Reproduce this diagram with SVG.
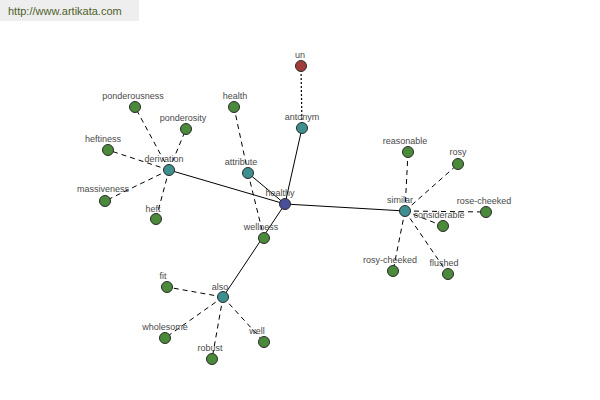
<svg xmlns="http://www.w3.org/2000/svg" width="600" height="400" viewBox="0 0 600 400">
<style>
.n{stroke:#2a2a2a;stroke-width:1}
.g{fill:#4a8a3a}.t{fill:#3e9090}.b{fill:#4a4f9c}.r{fill:#a03c3c}
text{font-family:"Liberation Sans",Arial,sans-serif;font-size:9px;fill:#4a4a4a;text-anchor:middle}
.s{stroke:#000;stroke-width:1;fill:none}
.d{stroke:#000;stroke-width:1;fill:none;stroke-dasharray:5,4}
.o{stroke:#000;stroke-width:1.2;fill:none;stroke-dasharray:2,2}
</style>
<rect x="0" y="0" width="139" height="21" fill="#eeeeee"/>
<text x="8" y="15" style="font-size:11px;fill:#4e5e2a;text-anchor:start">http://www.artikata.com</text>
<g id="connectors">
<line class="s" x1="285" y1="204" x2="302" y2="128"/>
<line class="o" x1="302" y1="128" x2="301" y2="66"/>
<line class="s" x1="285" y1="204" x2="169" y2="170"/>
<line class="s" x1="285" y1="204" x2="248" y2="173"/>
<line class="s" x1="285" y1="204" x2="405" y2="211"/>
<line class="s" x1="285" y1="204" x2="223" y2="297"/>
<line class="d" x1="169" y1="170" x2="135" y2="107"/>
<line class="d" x1="169" y1="170" x2="186" y2="129"/>
<line class="d" x1="169" y1="170" x2="108" y2="150"/>
<line class="d" x1="169" y1="170" x2="105" y2="201"/>
<line class="d" x1="169" y1="170" x2="156" y2="219"/>
<line class="d" x1="248" y1="173" x2="234" y2="107"/>
<line class="d" x1="248" y1="173" x2="264" y2="238"/>
<line class="d" x1="223" y1="297" x2="167" y2="287"/>
<line class="d" x1="223" y1="297" x2="165" y2="338"/>
<line class="d" x1="223" y1="297" x2="212" y2="359"/>
<line class="d" x1="223" y1="297" x2="264" y2="342"/>
<line class="d" x1="405" y1="211" x2="408" y2="152"/>
<line class="d" x1="405" y1="211" x2="458" y2="164"/>
<line class="d" x1="405" y1="211" x2="486" y2="212"/>
<line class="d" x1="405" y1="211" x2="443" y2="226"/>
<line class="d" x1="405" y1="211" x2="393" y2="271"/>
<line class="d" x1="405" y1="211" x2="448" y2="274"/>
</g>
<g id="un"><circle class="n r" cx="301" cy="66" r="5.5"/><text x="300" y="58">un</text></g>
<g id="antonym"><circle class="n t" cx="302" cy="128" r="5.5"/><text x="302" y="120">antonym</text></g>
<g id="derivation"><circle class="n t" cx="169" cy="170" r="5.5"/><text x="164" y="162">derivation</text></g>
<g id="ponderousness"><circle class="n g" cx="135" cy="107" r="5.5"/><text x="133" y="99">ponderousness</text></g>
<g id="ponderosity"><circle class="n g" cx="186" cy="129" r="5.5"/><text x="183" y="121">ponderosity</text></g>
<g id="heftiness"><circle class="n g" cx="108" cy="150" r="5.5"/><text x="103" y="142">heftiness</text></g>
<g id="massiveness"><circle class="n g" cx="105" cy="201" r="5.5"/><text x="103" y="192">massiveness</text></g>
<g id="heft"><circle class="n g" cx="156" cy="219" r="5.5"/><text x="153" y="212">heft</text></g>
<g id="attribute"><circle class="n t" cx="248" cy="173" r="5.5"/><text x="241" y="165">attribute</text></g>
<g id="health"><circle class="n g" cx="234" cy="107" r="5.5"/><text x="235" y="99">health</text></g>
<g id="wellness"><circle class="n g" cx="264" cy="238" r="5.5"/><text x="261" y="230">wellness</text></g>
<g id="also"><circle class="n t" cx="223" cy="297" r="5.5"/><text x="220" y="290">also</text></g>
<g id="fit"><circle class="n g" cx="167" cy="287" r="5.5"/><text x="163" y="279">fit</text></g>
<g id="wholesome"><circle class="n g" cx="165" cy="338" r="5.5"/><text x="165" y="330">wholesome</text></g>
<g id="robust"><circle class="n g" cx="212" cy="359" r="5.5"/><text x="210" y="351">robust</text></g>
<g id="well"><circle class="n g" cx="264" cy="342" r="5.5"/><text x="257" y="334">well</text></g>
<g id="similar"><circle class="n t" cx="405" cy="211" r="5.5"/><text x="400" y="203">similar</text></g>
<g id="reasonable"><circle class="n g" cx="408" cy="152" r="5.5"/><text x="405" y="144">reasonable</text></g>
<g id="rosy"><circle class="n g" cx="458" cy="164" r="5.5"/><text x="458" y="155">rosy</text></g>
<g id="rose-cheeked"><circle class="n g" cx="486" cy="212" r="5.5"/><text x="484" y="204">rose-cheeked</text></g>
<g id="considerable"><circle class="n g" cx="443" cy="226" r="5.5"/><text x="439" y="218">considerable</text></g>
<g id="rosy-cheeked"><circle class="n g" cx="393" cy="271" r="5.5"/><text x="390" y="263">rosy-cheeked</text></g>
<g id="flushed"><circle class="n g" cx="448" cy="274" r="5.5"/><text x="444" y="266">flushed</text></g>
<g id="healthy"><circle class="n b" cx="285" cy="204" r="5.5"/><text x="280" y="196">healthy</text></g>
</svg>
